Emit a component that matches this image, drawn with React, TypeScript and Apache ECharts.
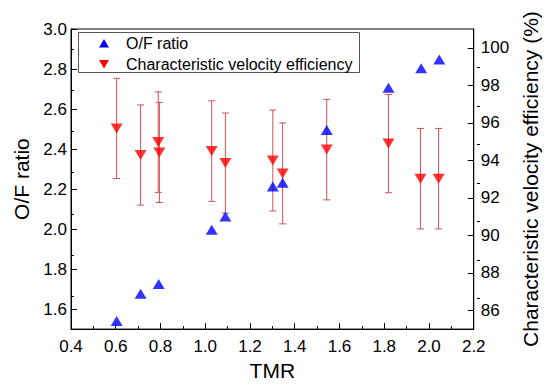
import React, { useEffect, useRef } from "react";
import * as echarts from "echarts";

// O/F ratio (left axis)
const ofTMR = [0.604, 0.711, 0.792, 1.029, 1.09, 1.302, 1.346, 1.543, 1.819, 1.965, 2.046];
const ofRatio = [1.54, 1.677, 1.726, 1.997, 2.063, 2.213, 2.232, 2.495, 2.706, 2.804, 2.848];

// Characteristic velocity efficiency (right axis)
const cTMR = [0.604, 0.711, 0.79, 0.795, 1.029, 1.09, 1.302, 1.346, 1.543, 1.819, 1.962, 2.043];
const cEff = [95.7, 94.28, 94.97, 94.42, 94.49, 93.85, 93.99, 93.3, 94.57, 94.89, 93.02, 93.02];
const cErr = [2.67, 2.67, 2.68, 2.67, 2.68, 2.67, 2.69, 2.69, 2.68, 2.62, 2.68, 2.68];

// Tick values
const leftMajor = [1.6, 1.8, 2.0, 2.2, 2.4, 2.6, 2.8, 3.0];
const leftMinor = [1.7, 1.9, 2.1, 2.3, 2.5, 2.7, 2.9];
const rightMajor = [86, 88, 90, 92, 94, 96, 98, 100];
const rightMinor = [87, 89, 91, 93, 95, 97, 99];

const FONT = "Liberation Sans, Arial, sans-serif";

export default function App() {
  const ref = useRef<HTMLDivElement>(null);
  useEffect(() => {
    if (!ref.current) return;
    const chart = echarts.init(ref.current, null, { renderer: "svg" });
    const gridPos = { left: 71, right: 69, top: 29, bottom: 49 };
    const errData = cTMR.map((x, i) => [x, cEff[i] - cErr[i], cEff[i] + cErr[i]]);
    const option: any = {
      animation: false,
      backgroundColor: "#fff",
      textStyle: { fontFamily: FONT },
      grid: [
        { ...gridPos, show: true, borderColor: "#000", borderWidth: 1, backgroundColor: "transparent" },
        { ...gridPos, show: false },
      ],
      xAxis: [
        {
          type: "value",
          gridIndex: 0,
          min: 0.4,
          max: 2.2,
          interval: 0.2,
          name: "TMR",
          nameLocation: "middle",
          nameGap: 29,
          nameTextStyle: { fontSize: 21, color: "#000", fontFamily: FONT },
          axisLine: { show: true, lineStyle: { color: "#000", width: 1 } },
          axisTick: { show: true, inside: true, length: 6, lineStyle: { color: "#000" } },
          minorTick: { show: true, splitNumber: 2, length: 3, lineStyle: { color: "#000" } },
          axisLabel: {
            fontSize: 17,
            color: "#000",
            margin: 9,
            fontFamily: FONT,
            formatter: (v: number) => v.toFixed(1),
          },
          splitLine: { show: false },
        },
        {
          type: "value",
          gridIndex: 1,
          min: 0.4,
          max: 2.2,
          interval: 0.2,
          show: false,
        },
      ],
      yAxis: [
        {
          type: "value",
          gridIndex: 0,
          position: "left",
          min: 1.5,
          max: 3.0,
          name: "O/F ratio",
          nameLocation: "middle",
          nameGap: 34,
          nameTextStyle: { fontSize: 21, color: "#000", fontFamily: FONT },
          axisLine: { show: true, lineStyle: { color: "#000", width: 1 } },
          axisTick: { show: true, inside: true, length: 6, customValues: leftMajor, lineStyle: { color: "#000" } },
          axisLabel: {
            fontSize: 17,
            color: "#000",
            margin: 4,
            fontFamily: FONT,
            customValues: leftMajor,
            formatter: (v: number) => v.toFixed(1),
          },
          splitLine: { show: false },
        },
        {
          type: "value",
          gridIndex: 0,
          position: "right",
          min: 85,
          max: 101,
          name: "Characteristic velocity efficiency (%)",
          nameLocation: "middle",
          nameGap: 38,
          nameRotate: 90,
          nameTextStyle: { fontSize: 21, color: "#000", fontFamily: FONT },
          axisLine: { show: true, lineStyle: { color: "#000", width: 1 } },
          axisTick: { show: true, inside: true, length: 6, customValues: rightMajor, lineStyle: { color: "#000" } },
          axisLabel: {
            fontSize: 17,
            color: "#000",
            margin: 7,
            fontFamily: FONT,
            customValues: rightMajor,
            formatter: (v: number) => String(v),
          },
          splitLine: { show: false },
        },
        {
          type: "value",
          gridIndex: 1,
          position: "left",
          min: 1.5,
          max: 3.0,
          axisLine: { show: false },
          axisTick: { show: true, inside: true, length: 3, customValues: leftMinor, lineStyle: { color: "#000" } },
          axisLabel: { show: false },
          splitLine: { show: false },
        },
        {
          type: "value",
          gridIndex: 1,
          position: "right",
          min: 85,
          max: 101,
          axisLine: { show: false },
          axisTick: { show: true, inside: true, length: 3, customValues: rightMinor, lineStyle: { color: "#000" } },
          axisLabel: { show: false },
          splitLine: { show: false },
        },
      ],
      series: [
        {
          name: "error",
          type: "custom",
          xAxisIndex: 0,
          yAxisIndex: 1,
          z: 1,
          data: errData,
          renderItem: (params: any, api: any) => {
            const x = api.value(0);
            const lo = api.coord([x, api.value(1)]);
            const hi = api.coord([x, api.value(2)]);
            const hw = 3.5;
            const style = { stroke: "#cc5252", lineWidth: 1 };
            return {
              type: "group",
              children: [
                { type: "line", shape: { x1: lo[0], y1: lo[1], x2: hi[0], y2: hi[1] }, style },
                { type: "line", shape: { x1: hi[0] - hw, y1: hi[1], x2: hi[0] + hw, y2: hi[1] }, style },
                { type: "line", shape: { x1: lo[0] - hw, y1: lo[1], x2: lo[0] + hw, y2: lo[1] }, style },
              ],
            };
          },
        },
        {
          name: "Characteristic velocity efficiency",
          type: "scatter",
          xAxisIndex: 0,
          yAxisIndex: 1,
          z: 3,
          symbol: "triangle",
          symbolRotate: 180,
          symbolSize: [12, 10],
          itemStyle: { color: "#ff0000" },
          data: cTMR.map((x, i) => [x, cEff[i]]),
        },
        {
          name: "O/F ratio",
          type: "scatter",
          xAxisIndex: 0,
          yAxisIndex: 0,
          z: 4,
          symbol: "triangle",
          symbolSize: [12, 10],
          itemStyle: { color: "#0000ff" },
          data: ofTMR.map((x, i) => [x, ofRatio[i]]),
        },
      ],
      graphic: [
        {
          type: "rect",
          shape: { x: 78.5, y: 32.5, width: 281, height: 40 },
          style: { fill: "#fff", stroke: "#555", lineWidth: 1 },
          z: 10,
        },
        {
          type: "polygon",
          shape: { points: [[99, 47.5], [109, 47.5], [104, 39]] },
          style: { fill: "#0000ff" },
          z: 11,
        },
        {
          type: "text",
          x: 126,
          y: 43,
          style: { text: "O/F ratio", fontSize: 16, fill: "#000", fontFamily: FONT, verticalAlign: "middle" },
          z: 11,
        },
        {
          type: "polygon",
          shape: { points: [[99, 60], [109, 60], [104, 68.5]] },
          style: { fill: "#ff0000" },
          z: 11,
        },
        {
          type: "text",
          x: 126,
          y: 64,
          style: {
            text: "Characteristic velocity efficiency",
            fontSize: 16,
            fill: "#000",
            fontFamily: FONT,
            verticalAlign: "middle",
          },
          z: 11,
        },
      ],
    };
    chart.setOption(option);
    return () => chart.dispose();
  }, []);
  return <div ref={ref} style={{ width: 549, height: 386, position: "absolute", left: 0, top: 0 }} />;
}
